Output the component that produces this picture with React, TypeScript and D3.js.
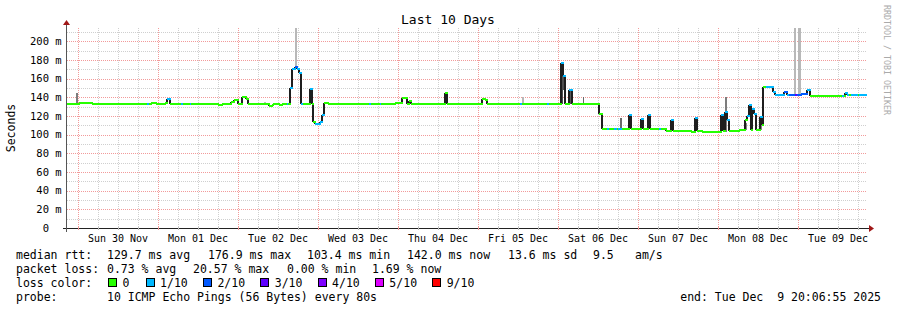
import * as d3 from 'd3'
import React, { useEffect, useRef } from 'react'

const width = 897
const height = 310

const startTime = Date.UTC(2025, 10, 29, 20, 42)
const spanHours = 240

// median rtt as steps: start hour (since startTime), value in ms, lost pings of 10
const stepHours = [
  0, 3.5, 7.5, 24.0, 24.6, 25.1, 26.7, 29.4, 30.0, 30.8, 34.2, 34.8, 36.8, 37.2, 45.3, 46.5,
  49.2, 50.1, 51.3, 52.5, 53.7, 54.3, 60.6, 61.5, 61.8, 63.6, 64.5, 65.9, 66.4, 66.9, 67.5, 68.5,
  69.1, 69.7, 70.3, 70.9, 72.9, 73.5, 73.9, 74.5, 75.9, 76.5, 77.1, 78.3, 90.7, 91.1, 93.9, 94.3,
  98.5, 100.5, 102.1, 102.7, 103.3, 113.4, 113.9, 124.5, 125.4, 125.9, 135.9, 136.5, 144.1, 144.7,
  148.1, 148.7, 149.3, 150.7, 151.5, 159.7, 160.5, 161.9, 162.5, 164.1, 164.9, 165.3, 166.5, 168.7,
  169.3, 172.1, 172.7, 174.3, 174.9, 177.5, 178.1, 179.7, 181.1, 181.7, 187.1, 188.5, 189.1, 190.5,
  196.3, 196.9, 197.3, 197.9, 198.7, 201.7, 203.5, 204.1, 204.5, 205.1, 205.5, 206.1, 206.7, 207.9,
  208.5, 208.9, 209.7, 211.7, 212.3, 215.1, 215.9, 216.7, 218.3, 218.9, 220.1, 222.1, 222.9, 225.3,
  225.9, 232.5, 233.1, 233.4, 234.1, 234.5, 235.1, 237.3, 237.7,
]
const stepMs = [
  133, 134.5, 133, 133, 133, 134.5, 133, 134.5, 138, 133, 133, 133, 133, 133, 132, 133,
  135, 137, 133, 140, 138, 133, 131, 132, 133, 131.5, 133, 133, 133, 150, 170, 172.5,
  170, 166, 133, 133, 149, 133, 113.5, 111, 114, 121, 134, 133, 133, 133, 133, 133,
  134.5, 139, 133, 136, 133, 144.7, 133, 138, 137, 133, 133, 133, 133, 133,
  177, 163, 133, 148, 133, 122, 106, 106, 106, 106, 106, 106, 106, 121,
  106, 117, 106, 121, 106, 106, 106, 104, 115.5, 104, 103, 117.5, 104, 103,
  121, 104, 124.5, 116, 104, 105.5, 116, 120, 132, 105, 128, 122.5, 105, 119.5,
  110, 151.5, 151.5, 146, 142.5, 146, 142.5, 142.5, 142.5, 142.5, 143.5, 148, 142, 141.5,
  142, 142, 142, 145, 142.5, 142.5, 142.5, 142.5, 142.5,
]
const stepLoss = [
  0, 0, 0, 1, 0, 0, 0, 0, 1, 0, 1, 0, 1, 0, 0, 0,
  0, 0, 0, 0, 0, 0, 0, 0, 0, 0, 0, 1, 0, 1, 1, 2,
  1, 1, 1, 0, 1, 0, 0, 1, 1, 1, 0, 0, 1, 0, 1, 0,
  0, 0, 0, 0, 0, 0, 0, 0, 0, 0, 1, 0, 1, 0,
  1, 1, 0, 1, 0, 0, 0, 1, 0, 1, 0, 1, 0, 1,
  0, 1, 0, 1, 0, 1, 0, 0, 1, 0, 0, 1, 0, 0,
  1, 0, 1, 1, 0, 0, 0, 1, 1, 0, 1, 1, 0, 1,
  0, 0, 1, 1, 1, 2, 1, 2, 3, 2, 2, 1, 0, 0,
  0, 1, 0, 1, 1, 0, 1, 0, 1,
]
const lastHour = 239.7

// smoke (spread of the single pings) where it shows
const smokeFrom = [2.7, 59.1, 68.5, 136.4, 147.9, 148.7, 150.7, 154.8, 165.9, 197.3, 203.4, 207.9, 218.1, 219.3]
const smokeTo = [3.3, 59.7, 69.1, 137.1, 148.7, 149.3, 151.3, 155.1, 166.5, 197.9, 204.0, 208.5, 218.7, 220.1]
const smokeLow = [134, 133, 173, 133, 133, 148, 133, 133, 106, 103, 105, 105, 142.5, 142.5]
const smokeHigh = [145, 135.5, 214, 140, 172, 164, 148, 140, 118, 140, 113, 116, 214, 214]
const smokeDensity = [0.55, 0.2, 0.22, 0.22, 0.8, 0.8, 0.75, 0.65, 0.65, 0.55, 0.5, 0.5, 0.22, 0.22]

const lossLevels = [0, 1, 2, 3, 4, 5, 9]
const lossLabels = ['0', '1/10', '2/10', '3/10', '4/10', '5/10', '9/10']
const lossColors = ['#26ff00', '#00b8ff', '#0059ff', '#5e00ff', '#7e00ff', '#dd00ff', '#ff0000']

const rttStats = ['129.7 ms avg', '176.9 ms max', '103.4 ms min', '142.0 ms now', '13.6 ms sd', '9.5', 'am/s']
const lossStats = ['0.73 % avg', '20.57 % max', '0.00 % min', '1.69 % now']
const probeText = '10 ICMP Echo Pings (56 Bytes) every 80s'
const endText = 'end: Tue Dec  9 20:06:55 2025'

const font = 'DejaVu Sans Mono, monospace'

const App: React.FC = () => {
  const ref = useRef<SVGSVGElement>(null)

  useEffect(() => {
    const margin = { top: 28, right: 30, bottom: 82, left: 67 }
    const plotW = width - margin.left - margin.right
    const plotH = height - margin.top - margin.bottom
    const hourMs = 3600 * 1000

    const x = d3
      .scaleUtc()
      .domain([new Date(startTime), new Date(startTime + spanHours * hourMs)])
      .range([margin.left, margin.left + plotW])
    const y = d3.scaleLinear().domain([0, 0.2144]).range([margin.top + plotH, margin.top])
    const tx = (h: number) => x(new Date(startTime + h * hourMs))
    const ty = (ms: number) => y(ms / 1000)
    const px = (v: number) => Math.round(v) + 0.5
    const lossColor = (l: number) => lossColors[Math.max(0, d3.bisectLeft(lossLevels, l))] || lossColors[6]
    const gray = d3.scaleLinear<string>().domain([0, 1]).range(['#e0e0e0', '#2a2a2a'])

    const svg = d3.select(ref.current)
    svg.selectAll('*').remove()
    svg.append('rect').attr('width', width).attr('height', height).attr('fill', '#ffffff')

    const [t0, t1] = x.domain()
    const yBottom = margin.top + plotH

    // grid
    const grid = svg.append('g').attr('shape-rendering', 'crispEdges').attr('stroke-dasharray', '1,1')
    d3.range(0.01, 0.215, 0.02).forEach((v) => {
      grid.append('line').attr('x1', margin.left).attr('x2', margin.left + plotW)
        .attr('y1', px(y(v))).attr('y2', px(y(v))).attr('stroke', '#cfcfcf')
    })
    d3.utcHour.every(6)!.range(t0, t1).forEach((d) => {
      if (d.getUTCHours() === 0) return
      grid.append('line').attr('x1', px(x(d))).attr('x2', px(x(d)))
        .attr('y1', margin.top).attr('y2', yBottom).attr('stroke', '#cfcfcf')
    })
    d3.range(0.02, 0.215, 0.02).forEach((v) => {
      grid.append('line').attr('x1', margin.left).attr('x2', margin.left + plotW)
        .attr('y1', px(y(v))).attr('y2', px(y(v))).attr('stroke', '#f29a9a')
    })
    d3.utcDay.range(t0, t1).forEach((d) => {
      grid.append('line').attr('x1', px(x(d))).attr('x2', px(x(d)))
        .attr('y1', margin.top).attr('y2', yBottom).attr('stroke', '#f29a9a')
    })

    // smoke
    svg.append('g').attr('shape-rendering', 'crispEdges')
      .selectAll('rect')
      .data(smokeFrom)
      .enter()
      .append('rect')
      .attr('x', (d) => Math.round(tx(d)))
      .attr('width', (d, i) => Math.max(1, Math.round(tx(smokeTo[i])) - Math.round(tx(d))))
      .attr('y', (d, i) => Math.round(ty(smokeHigh[i])))
      .attr('height', (d, i) => Math.round(ty(smokeLow[i])) - Math.round(ty(smokeHigh[i])))
      .attr('fill', (d, i) => gray(smokeDensity[i]))

    // median rtt
    const ends = stepHours.slice(1).concat([lastHour])
    const med = svg.append('g').attr('shape-rendering', 'crispEdges')
    stepHours.forEach((h, i) => {
      if (i === 0) return
      const xv = Math.round(tx(h))
      med.append('line')
        .attr('x1', xv).attr('x2', xv)
        .attr('y1', Math.round(ty(stepMs[i - 1]))).attr('y2', Math.round(ty(stepMs[i])))
        .attr('stroke', '#1e1e1e').attr('stroke-width', 2)
    })
    stepHours.forEach((h, i) => {
      const yv = Math.round(ty(stepMs[i]))
      med.append('line')
        .attr('x1', Math.round(tx(h))).attr('x2', Math.round(tx(ends[i])) + 1)
        .attr('y1', yv).attr('y2', yv)
        .attr('stroke', lossColor(stepLoss[i])).attr('stroke-width', 2)
    })

    // axes
    const axes = svg.append('g').attr('shape-rendering', 'crispEdges')
    axes.append('line').attr('x1', margin.left - 4).attr('x2', margin.left + plotW + 2)
      .attr('y1', yBottom + 0.5).attr('y2', yBottom + 0.5).attr('stroke', '#222')
    axes.append('line').attr('x1', margin.left - 0.5).attr('x2', margin.left - 0.5)
      .attr('y1', yBottom + 4).attr('y2', margin.top - 4).attr('stroke', '#555')
    d3.utcHour.every(6)!.range(t0, t1).forEach((d) => {
      axes.append('line').attr('x1', px(x(d))).attr('x2', px(x(d)))
        .attr('y1', yBottom - 1).attr('y2', yBottom + 2).attr('stroke', d.getUTCHours() === 0 ? '#f29a9a' : '#bbb')
    })
    svg.append('path')
      .attr('d', `M${margin.left - 4},${margin.top - 3}L${margin.left - 0.5},${margin.top - 8}L${margin.left + 3},${margin.top - 3}Z`)
      .attr('fill', '#a01818')
    const ax = margin.left + plotW + 2
    svg.append('path')
      .attr('d', `M${ax},${yBottom - 3}L${ax + 5},${yBottom + 0.5}L${ax},${yBottom + 4}Z`)
      .attr('fill', '#a01818')

    const text = svg.append('g').attr('font-family', font).attr('fill', '#000')
    const addText = (tx0: number, ty0: number, size: number, s: string) =>
      text.append('text').attr('x', tx0).attr('y', ty0).attr('font-size', size)
        .attr('xml:space', 'preserve').style('white-space', 'pre').text(s)

    // y tick labels
    d3.range(0, 0.201, 0.02).forEach((v) => {
      const ms = Math.round(v * 1000)
      addText(49, y(v) + 3.5, 10.5, String(ms)).attr('text-anchor', 'end')
      if (ms > 0) addText(55.3, y(v) + 3.5, 10.5, 'm')
    })

    // x labels at noon
    const fmt = d3.utcFormat('%a %d %b')
    d3.utcDay.range(t0, t1).forEach((d) => {
      const noon = d3.utcHour.offset(d, 12)
      if (noon > t1) return
      addText(x(noon), 241.5, 10, fmt(noon)).attr('text-anchor', 'middle')
    })

    addText(448, 24, 13, 'Last 10 Days').attr('text-anchor', 'middle')
    text.append('text').attr('transform', `translate(15,${(margin.top + yBottom) / 2}) rotate(-90)`)
      .attr('font-size', 11.5).attr('text-anchor', 'middle').text('Seconds')
    text.append('text').attr('transform', 'translate(884,5) rotate(90)')
      .attr('font-size', 8.3).attr('fill', '#aaa').text('RRDTOOL / TOBI OETIKER')

    // legend
    const lf = 11.5
    const rows = [258.5, 272.5, 286.5, 300.5]
    addText(16, rows[0], lf, 'median rtt:')
    const rttX = [107, 208, 307, 407, 508, 593, 635]
    rttStats.forEach((s, i) => addText(rttX[i], rows[0], lf, s))
    addText(16, rows[1], lf, 'packet loss:')
    const lossX = [107, 193, 287, 372]
    lossStats.forEach((s, i) => addText(lossX[i], rows[1], lf, s))
    addText(16, rows[2], lf, 'loss color:')
    let lx = 108
    lossLabels.forEach((s, i) => {
      svg.append('rect').attr('x', lx + 0.5).attr('y', rows[2] - 8.5).attr('width', 8).attr('height', 8)
        .attr('fill', lossColors[i]).attr('stroke', '#000').attr('shape-rendering', 'crispEdges')
      addText(lx + 14.5, rows[2], lf, s)
      lx += 31 + s.length * 6.58
    })
    addText(16, rows[3], lf, 'probe:')
    addText(107, rows[3], lf, probeText)
    addText(881, rows[3], lf, endText).attr('text-anchor', 'end')
  }, [])

  return (
    <div style={{ position: 'absolute', left: 0, top: 0 }}>
      <svg ref={ref} width={width} height={height} />
    </div>
  )
}

export default App
